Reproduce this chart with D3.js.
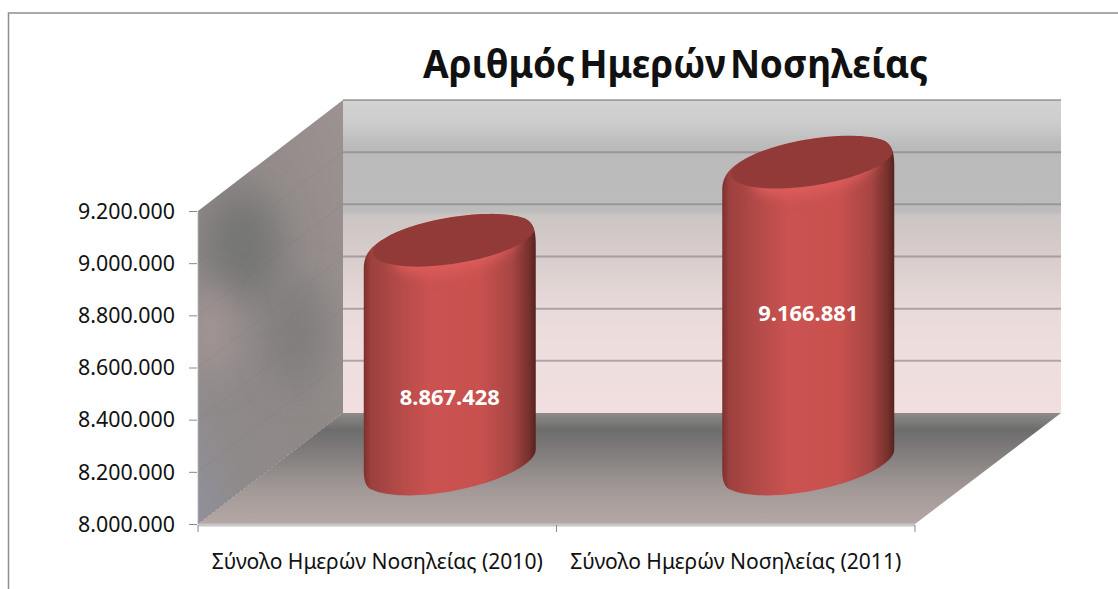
<!DOCTYPE html>
<html>
<head>
<meta charset="utf-8">
<title>Αριθμός Ημερών Νοσηλείας</title>
<style>
    html, body { margin: 0; padding: 0; background: #fff; overflow: hidden; }
    svg { display: block; }
    text { font-family: "Noto Sans", sans-serif; fill: #111; }
</style>
<script src="https://d3js.org/d3.v7.min.js"></script>
</head>
<body>
<script>
const chartTitle = "Αριθμός Ημερών Νοσηλείας";
const categories = ["Σύνολο Ημερών Νοσηλείας (2010)", "Σύνολο Ημερών Νοσηλείας (2011)"];
const values = [8867428, 9166881];
const yTicks = [8000000, 8200000, 8400000, 8600000, 8800000, 9000000, 9200000];

const width = 1118, height = 589;
const plotLeft = 198, plotRight = 915, plotBottom = 524, plotTop = 211;
// depth of the 3d box
const depthX = 145, depthY = -111;

const fmt = d3.formatLocale({decimal: ",", thousands: ".", grouping: [3], currency: ["", ""]}).format(",d");

const x = d3.scaleBand().domain(categories).range([plotLeft, plotRight]);
const y = d3.scaleLinear().domain([8000000, 9200000]).range([plotBottom, plotTop]);
const labelY = d3.scaleLinear().domain([8000000, 9200000]).range([640, 303]);

const svg = d3.select("body").append("svg").attr("width", width).attr("height", height);
const defs = svg.append("defs");

function gradient(id, stops, x1, y1, x2, y2) {
    defs.append("linearGradient").attr("id", id)
        .attr("x1", x1).attr("y1", y1).attr("x2", x2).attr("y2", y2)
        .selectAll("stop").data(stops).join("stop")
        .attr("offset", d => d[0]).attr("stop-color", d => d[1]);
}

function blur(id, amount) {
    defs.append("filter").attr("id", id)
        .attr("x", "-150%").attr("y", "-150%").attr("width", "400%").attr("height", "400%")
        .append("feGaussianBlur").attr("stdDeviation", amount);
}

gradient("wallBack", [[0, "#d2d2d2"], [0.07, "#cdcdcd"], [0.15, "#bababa"], [0.355, "#bcbcbc"], [0.37, "#cbc5c3"],
    [0.5, "#d8cdcc"], [0.67, "#e9dada"], [0.83, "#efdede"], [1, "#f1dfdf"]], 0, 0, 0, 1);
gradient("wallLeft", [[0, "#9c9391"], [0.5, "#8e8887"], [0.8, "#8f8a8a"], [1, "#90909a"]], 1, 0, 0, 1);
gradient("floor", [[0, "#8e8b89"], [0.15, "#6d6d6d"], [0.35, "#807c7b"], [0.7, "#a39a98"], [1, "#b4a7a6"]], 0, 0, 0, 1);
gradient("barBody", [[0, "#7c302e"], [0.04, "#9c403e"], [0.18, "#b04947"], [0.38, "#ca5250"], [0.68, "#c8514e"],
    [0.86, "#a84644"], [0.96, "#77312d"], [1, "#552320"]], 0, 0, 1, 0);
blur("soft", 6);
blur("softer", 18);

const polygon = pts => d3.line()(pts) + "Z";

// frame
svg.append("path").attr("d", `M8.5,${height}V13H${width}`)
    .attr("fill", "none").attr("stroke", "#8f8f8f").attr("stroke-width", 1.5);

// walls and floor
svg.append("path")
    .attr("d", polygon([[plotLeft + depthX, y(9200000) + depthY], [plotRight + depthX + 1, y(9200000) + depthY],
        [plotRight + depthX + 1, plotBottom + depthY], [plotLeft + depthX, plotBottom + depthY]]))
    .attr("fill", "url(#wallBack)");

const sideWall = polygon([[plotLeft, plotTop], [plotLeft + depthX, plotTop + depthY], [plotLeft + depthX, plotBottom + depthY], [plotLeft, plotBottom]]);
svg.append("path").attr("d", sideWall).attr("fill", "url(#wallLeft)");
defs.append("clipPath").attr("id", "sideClip").append("path").attr("d", sideWall);
const sideShade = svg.append("g").attr("clip-path", "url(#sideClip)");
sideShade.append("ellipse").attr("cx", plotLeft + 45).attr("cy", plotTop + 35).attr("rx", 38).attr("ry", 55)
    .attr("fill", "#6f7270").attr("fill-opacity", 0.8).attr("filter", "url(#softer)");
sideShade.append("ellipse").attr("cx", plotLeft + 100).attr("cy", plotTop + 120).attr("rx", 26).attr("ry", 55)
    .attr("fill", "#767675").attr("fill-opacity", 0.7).attr("filter", "url(#softer)");
sideShade.append("ellipse").attr("cx", plotLeft + 12).attr("cy", plotTop + 120).attr("rx", 22).attr("ry", 45)
    .attr("fill", "#aa9898").attr("fill-opacity", 0.8).attr("filter", "url(#softer)");

svg.append("path")
    .attr("d", polygon([[plotLeft, plotBottom], [plotLeft + depthX, plotBottom + depthY], [plotRight + depthX + 1, plotBottom + depthY], [plotRight, plotBottom]]))
    .attr("fill", "url(#floor)");

// grid lines, back wall
svg.append("g").selectAll("line").data(yTicks.slice(1)).join("line")
    .attr("x1", plotLeft + depthX).attr("x2", plotRight + depthX + 1)
    .attr("y1", d => y(d) + depthY).attr("y2", d => y(d) + depthY)
    .attr("stroke", "#857d7d").attr("stroke-opacity", 0.6).attr("stroke-width", 2);
// grid lines, side wall
svg.append("g").selectAll("line").data(yTicks.slice(1, -1)).join("line")
    .attr("x1", plotLeft).attr("x2", plotLeft + depthX)
    .attr("y1", d => y(d)).attr("y2", d => y(d) + depthY)
    .attr("stroke", "#6f6f6f").attr("stroke-opacity", 0.16);
svg.append("line")
    .attr("x1", plotLeft).attr("y1", plotBottom).attr("x2", plotLeft + depthX).attr("y2", plotBottom + depthY)
    .attr("stroke", "#6c6c6c").attr("stroke-dasharray", "2 3").attr("stroke-opacity", 0.6);

// tilted ellipse point, t in radians
function ell(cx, cy, rx, b, k, t) {
    return [cx + rx * Math.cos(t), cy + b * Math.sin(t) - k * Math.cos(t)];
}
function arc(cx, cy, rx, b, k, t0, t1) {
    return d3.range(0, 41).map(i => ell(cx, cy, rx, b, k, t0 + (t1 - t0) * i / 40));
}

const bars = svg.append("g").selectAll("g")
    .data(categories.map((c, i) => ({category: c, value: values[i], index: i})))
    .join("g");

bars.each(function(d) {
    const g = d3.select(this);
    const cx = x(d.category) + x.bandwidth() / 2 + depthX / 2;
    const cy = y(d.value) + depthY / 2;
    const baseY = y(8000000) + depthY / 2 - 4;
    const rx = 86;

    const faceY = cy - 2, faceB = 23.5, faceK = 12;
    const faceArc = arc(cx + 4, faceY, 81, faceB, faceK, 1.2 * Math.PI, 1.85 * Math.PI);
    const bottomArc = arc(cx, baseY, rx, 27, 15, 0, 0.85 * Math.PI);
    const p = d3.path();
    p.moveTo(cx - rx, cy + 26);
    p.bezierCurveTo(cx - rx, cy + 10, cx - rx + 10, cy + 2, faceArc[0][0], faceArc[0][1]);
    faceArc.forEach(q => p.lineTo(q[0], q[1]));
    p.bezierCurveTo(cx + rx - 3, cy - 20, cx + rx, cy - 12, cx + rx, cy);
    bottomArc.forEach(q => p.lineTo(q[0], q[1]));
    // rounded lower left corner
    p.bezierCurveTo(cx - rx + 2, baseY + 24, cx - rx, baseY + 16, cx - rx, baseY + 5);
    p.closePath();

    const clipId = "barClip" + d.index;
    defs.append("clipPath").attr("id", clipId).append("path").attr("d", p.toString());

    g.append("path").attr("d", p.toString()).attr("fill", "url(#barBody)");

    const inner = g.append("g").attr("clip-path", `url(#${clipId})`);
    // light rim below the top face
    inner.append("path")
        .attr("d", d3.line()(arc(cx + 6, cy + 6, 62, 24, 12, 0, 2 * Math.PI)) + "Z")
        .attr("fill", "#dc5c5a").attr("filter", "url(#soft)");
    inner.append("path")
        .attr("d", d3.line()(arc(cx + 4, faceY, 81, faceB, faceK, 0, 2 * Math.PI)) + "Z")
        .attr("fill", "#913a37");

    g.append("text")
        .attr("x", cx).attr("y", labelY(d.value))
        .attr("text-anchor", "middle").attr("dominant-baseline", "central")
        .attr("font-size", 22).attr("font-weight", 700)
        .attr("textLength", 100).attr("lengthAdjust", "spacingAndGlyphs")
        .style("fill", "#fff")
        .text(fmt(d.value));
});

// base of the box
svg.append("line").attr("x1", plotLeft).attr("x2", plotRight).attr("y1", plotBottom + 1).attr("y2", plotBottom + 1)
    .attr("stroke", "#c6c6c6").attr("stroke-width", 3);
svg.append("line").attr("x1", plotLeft).attr("x2", plotLeft).attr("y1", plotTop).attr("y2", plotBottom)
    .attr("stroke", "#b5b5b5").attr("stroke-opacity", 0.8);

// y axis
const yAxis = svg.append("g").attr("transform", `translate(${plotLeft - 1},0)`)
    .call(d3.axisLeft(y).tickValues(yTicks).tickFormat(fmt).tickSize(8).tickPadding(14));
yAxis.select(".domain").remove();
yAxis.selectAll("line").attr("stroke", "#8a8a8a");
yAxis.selectAll("text").attr("font-size", 22).attr("dy", "0.33em")
    .attr("textLength", 97).attr("lengthAdjust", "spacingAndGlyphs");

// x axis
const xAxis = svg.append("g").attr("transform", `translate(0,${plotBottom + 1})`)
    .call(d3.axisBottom(x).tickSize(0).tickPadding(35));
xAxis.select(".domain").remove();
xAxis.selectAll("text").attr("font-size", 22).attr("dy", "0.4em")
    .attr("textLength", 331).attr("lengthAdjust", "spacingAndGlyphs");
svg.append("g").selectAll("line").data([0, 1, 2]).join("line")
    .attr("x1", d => plotLeft + d * x.bandwidth()).attr("x2", d => plotLeft + d * x.bandwidth())
    .attr("y1", plotBottom + 1).attr("y2", plotBottom + 8)
    .attr("stroke", "#8a8a8a");

// title
svg.append("text")
    .attr("x", 675.5).attr("y", 78)
    .attr("text-anchor", "middle")
    .attr("font-size", 40).attr("font-weight", 700).attr("word-spacing", "-6px")
    .attr("textLength", 505).attr("lengthAdjust", "spacingAndGlyphs")
    .text(chartTitle);
</script>
</body>
</html>
